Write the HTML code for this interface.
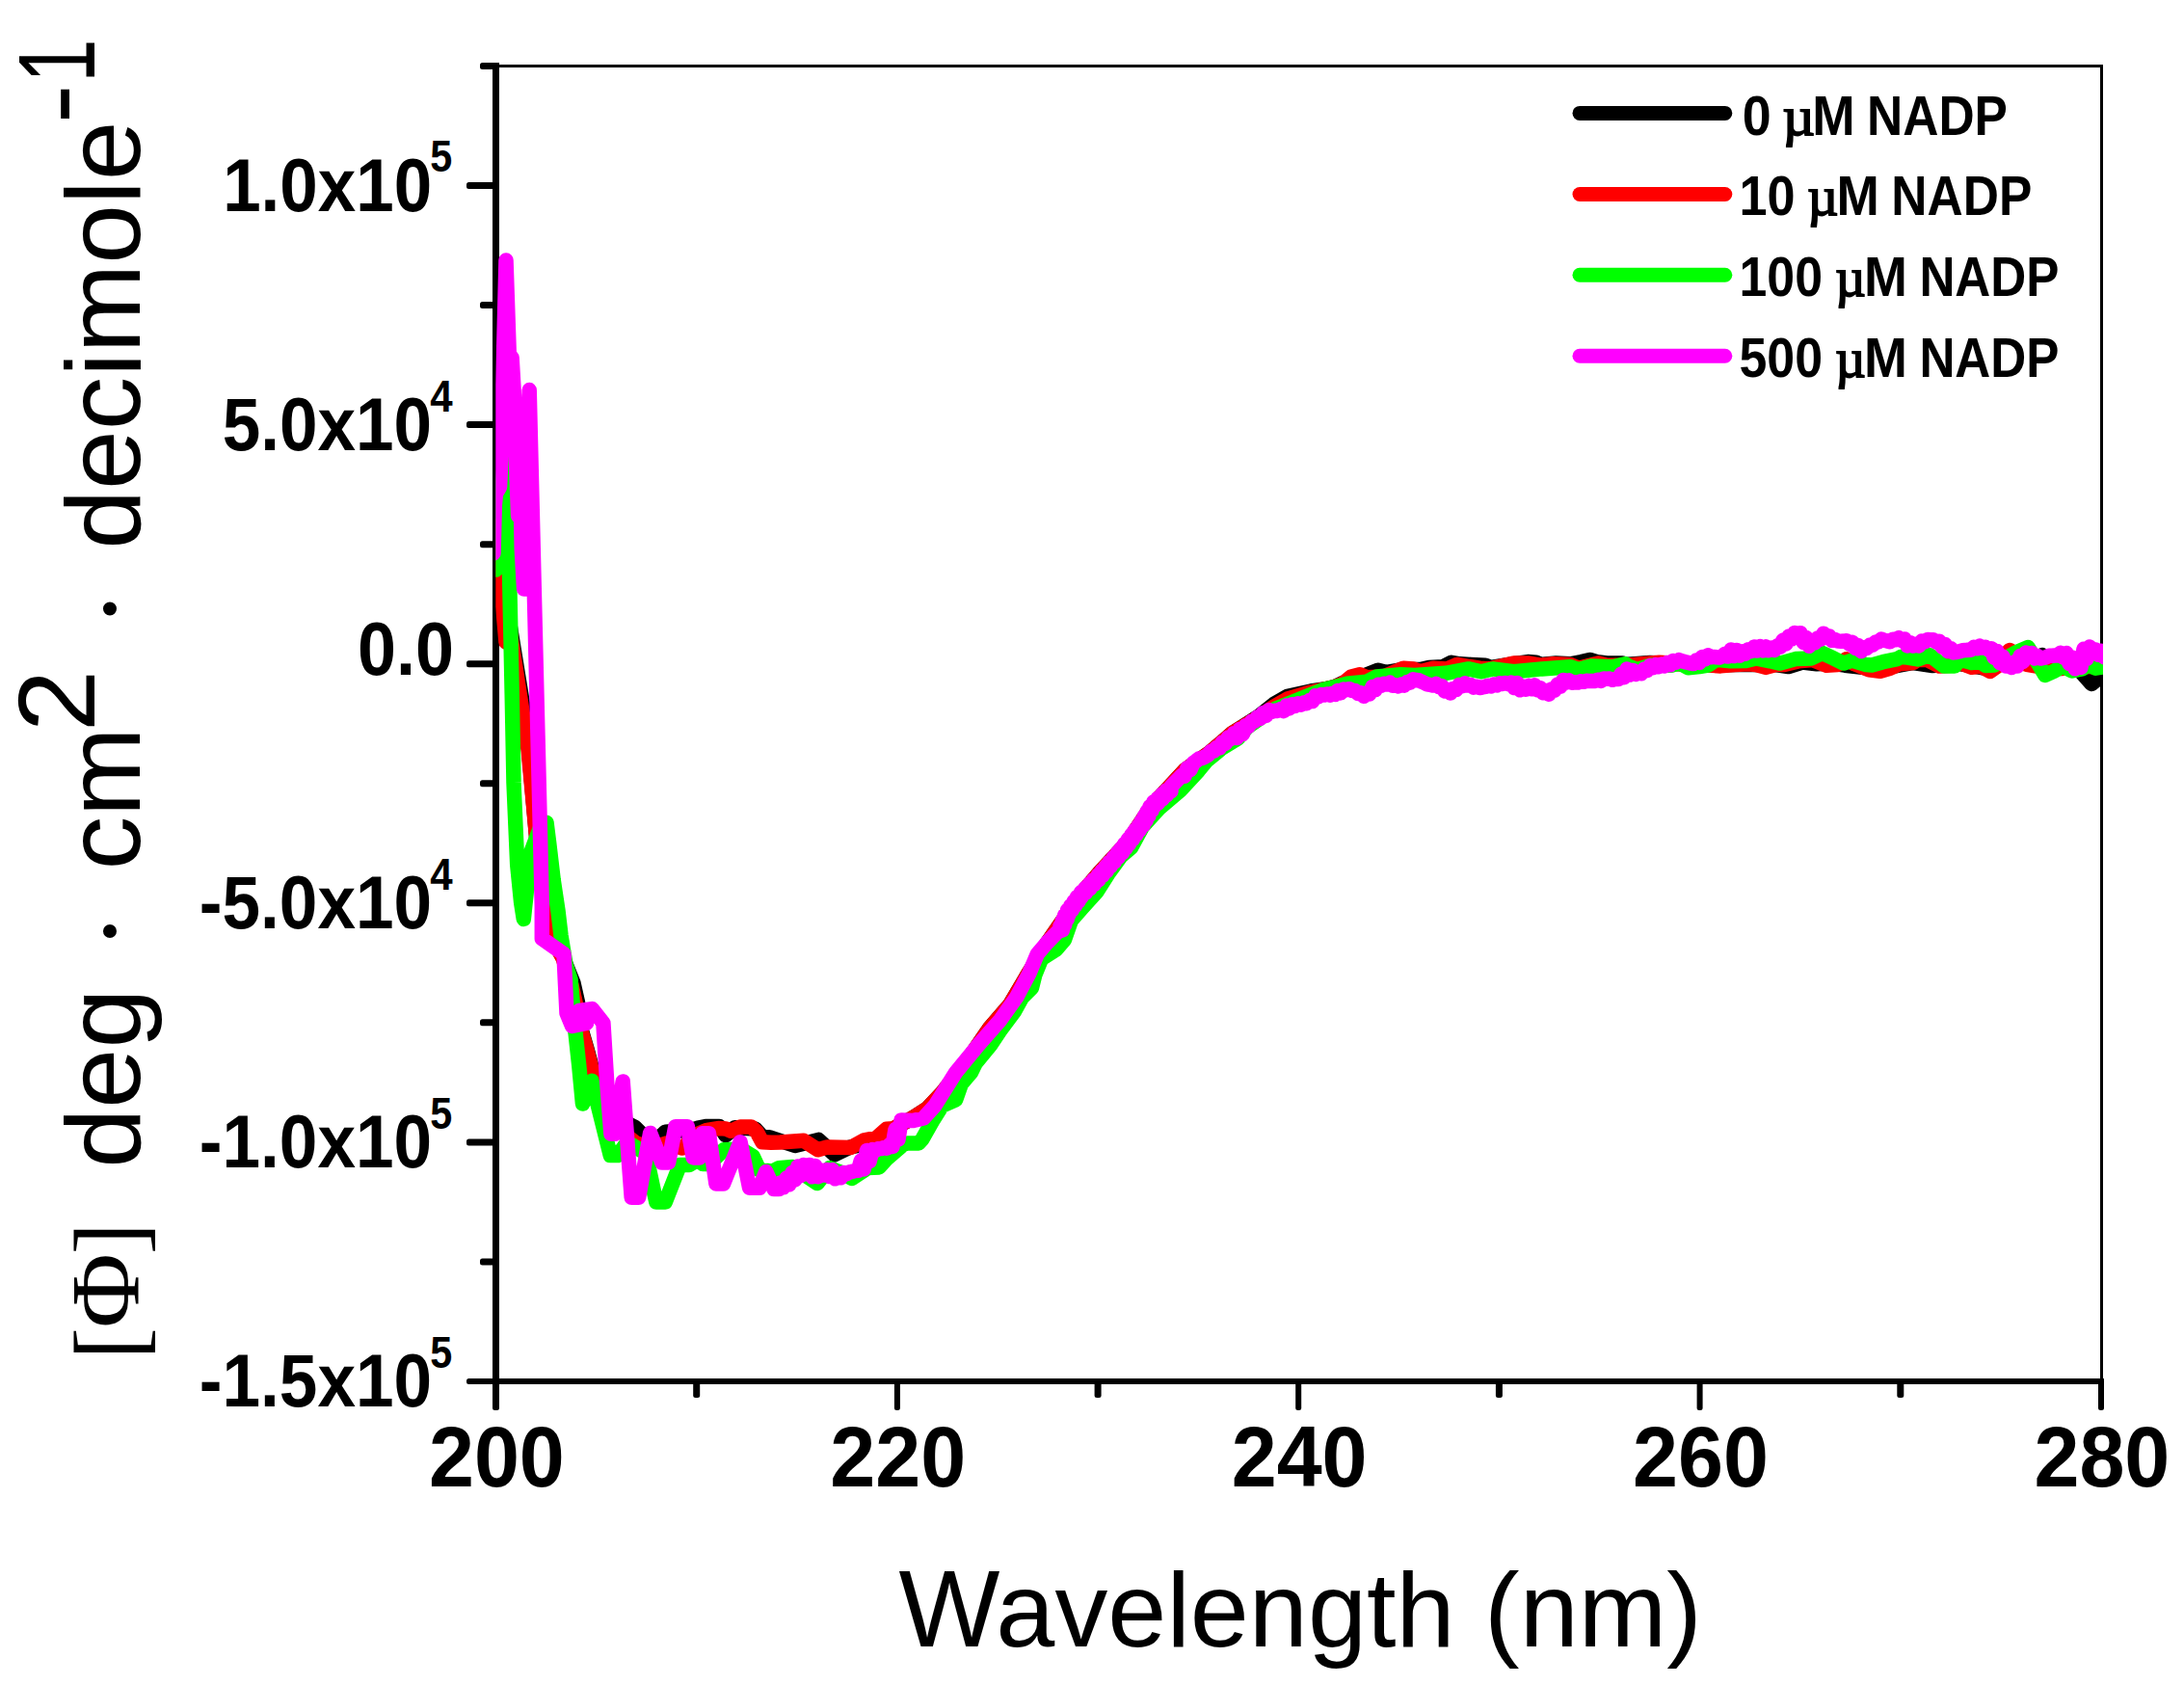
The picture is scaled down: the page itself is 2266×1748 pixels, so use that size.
<!DOCTYPE html>
<html lang="en"><head><meta charset="utf-8"><title>CD spectra - NADP titration</title>
<style>
html,body{margin:0;padding:0;background:#fff;}
body{width:2266px;height:1748px;overflow:hidden;}
svg{display:block;}
text{fill:#000;font-kerning:none;white-space:pre;}
.ss{font-family:"Liberation Sans",Arial,Helvetica,sans-serif;}
.sb{font-family:"Liberation Sans",Arial,Helvetica,sans-serif;font-weight:bold;}
.sf{font-family:"Liberation Serif","Times New Roman",serif;}
.sfb{font-family:"Liberation Serif","Times New Roman",serif;font-weight:bold;}
</style></head><body>
<svg width="2266" height="1748" viewBox="0 0 2266 1748">
<rect x="0" y="0" width="2266" height="1748" fill="#fff"/>
<g fill="#000" shape-rendering="crispEdges">
<rect x="514" y="67" width="1668" height="3"/>
<rect x="2179" y="67" width="3" height="1366"/>
<rect x="511" y="65" width="7" height="1396"/>
<rect x="486" y="1430" width="1697" height="6"/>
</g>
<g fill="#000">
<rect x="498" y="65.0" width="16" height="7" rx="2.5"/>
<rect x="484" y="189.0" width="30" height="7" rx="2.5"/>
<rect x="498" y="313.1" width="16" height="7" rx="2.5"/>
<rect x="484" y="437.1" width="30" height="7" rx="2.5"/>
<rect x="498" y="561.2" width="16" height="7" rx="2.5"/>
<rect x="484" y="685.2" width="30" height="7" rx="2.5"/>
<rect x="498" y="809.2" width="16" height="7" rx="2.5"/>
<rect x="484" y="933.3" width="30" height="7" rx="2.5"/>
<rect x="498" y="1057.3" width="16" height="7" rx="2.5"/>
<rect x="484" y="1181.4" width="30" height="7" rx="2.5"/>
<rect x="498" y="1305.4" width="16" height="7" rx="2.5"/>
<rect x="484" y="1430.0" width="30" height="6" rx="2.5"/>
<rect x="511.0" y="1433" width="7" height="30" rx="2.5"/>
<rect x="719.2" y="1433" width="7" height="17" rx="2.5"/>
<rect x="927.9" y="1433" width="6" height="30" rx="2.5"/>
<rect x="1135.6" y="1433" width="7" height="17" rx="2.5"/>
<rect x="1344.2" y="1433" width="6" height="30" rx="2.5"/>
<rect x="1551.9" y="1433" width="7" height="17" rx="2.5"/>
<rect x="1760.6" y="1433" width="6" height="30" rx="2.5"/>
<rect x="1968.3" y="1433" width="7" height="17" rx="2.5"/>
<rect x="2177.0" y="1433" width="6" height="30" rx="2.5"/>
</g>
<defs><clipPath id="pc"><rect x="514.3" y="60" width="1667.7" height="1380"/></clipPath></defs>
<g clip-path="url(#pc)" fill="none" stroke-width="15.5" stroke-linejoin="round" stroke-linecap="round">
<polyline stroke="#000000" points="514.5,546.0 525.5,666.0 528.5,645.0 543.0,734.0 548.5,777.0 557.0,873.0 566.0,955.0 572.0,972.0 584.5,994.0 595.0,1020.0 599.5,1040.0 602.5,1066.0 609.5,1090.0 613.5,1105.0 621.0,1135.0 640.0,1160.0 658.9,1169.5 667.5,1178.0 684.6,1179.9 690.3,1174.2 696.9,1173.8 717.8,1172.3 724.4,1170.0 732.0,1168.5 746.3,1168.5 748.2,1170.4 752.9,1177.7 762.4,1169.8 783.3,1170.9 789.9,1178.0 800.0,1180.4 824.9,1188.5 849.2,1182.4 865.9,1197.8 882.0,1190.0 891.5,1188.2 909.5,1181.0 927.0,1171.0 948.0,1159.0 962.0,1150.0 978.0,1133.0 1003.2,1100.8 1026.5,1066.8 1048.1,1041.8 1068.0,1008.0 1086.0,979.0 1106.0,950.0 1122.0,927.0 1140.0,906.0 1170.0,873.5 1195.0,836.0 1229.7,798.5 1256.0,780.0 1278.7,760.5 1306.0,743.0 1322.0,730.2 1336.0,722.2 1360.0,717.0 1374.0,715.0 1385.0,712.5 1393.2,708.5 1416.6,700.5 1429.8,695.3 1438.6,697.5 1456.2,694.5 1473.8,694.6 1482.6,692.4 1497.2,691.7 1506.0,687.3 1514.8,688.8 1526.5,689.5 1541.2,690.2 1547.0,692.4 1570.5,688.6 1585.1,686.6 1593.9,687.3 1598.3,689.5 1614.4,688.0 1629.1,688.8 1640.8,686.6 1649.6,684.4 1656.9,686.6 1667.2,688.0 1683.3,688.0 1686.2,689.5 1712.0,687.5 1750.0,689.0 1775.0,690.2 1799.9,689.5 1821.9,689.5 1842.4,689.5 1855.6,691.6 1870.0,687.0 1884.9,688.7 1900.0,688.0 1914.2,690.2 1939.1,693.0 1961.1,692.0 1985.0,687.5 2005.2,690.5 2033.8,688.5 2064.8,694.0 2085.0,680.0 2102.9,686.0 2118.9,679.6 2138.6,691.0 2156.4,693.8 2170.1,709.5 2184.0,698.0"/>
<polyline stroke="#ff0000" points="514.5,546.0 525.0,666.0 527.5,645.0 541.3,734.0 548.0,777.0 557.0,873.0 566.0,955.0 572.0,972.0 584.0,994.0 593.0,1022.0 597.5,1042.0 602.0,1066.0 609.0,1090.0 613.0,1105.0 620.0,1135.0 634.0,1160.0 645.0,1174.0 660.0,1186.0 676.0,1191.0 692.0,1186.0 708.0,1191.0 721.0,1179.0 724.4,1176.1 733.9,1172.3 746.3,1170.4 752.9,1170.9 758.6,1173.3 768.1,1169.0 779.5,1169.0 785.2,1174.2 790.9,1184.7 800.0,1185.2 809.5,1185.0 833.8,1183.3 848.6,1192.7 858.2,1190.1 882.6,1190.5 896.7,1182.8 909.5,1180.3 919.7,1171.3 927.4,1170.6 948.0,1159.0 962.0,1150.0 978.0,1133.0 1003.2,1100.8 1026.5,1066.8 1048.1,1041.8 1068.0,1008.0 1086.0,979.0 1106.0,950.0 1122.0,927.0 1140.0,906.0 1170.0,873.5 1195.0,836.0 1229.7,798.5 1256.0,780.0 1278.7,760.5 1306.0,744.0 1322.0,733.0 1336.0,725.0 1360.0,718.0 1374.0,715.0 1385.0,712.5 1393.2,709.3 1402.0,701.9 1410.8,699.7 1418.1,702.7 1435.7,701.9 1456.2,693.2 1466.4,693.9 1473.8,696.8 1487.0,693.2 1501.6,693.9 1511.9,689.5 1535.3,693.2 1545.6,693.9 1570.5,688.0 1585.1,688.0 1598.3,690.2 1611.5,688.8 1629.1,689.5 1637.9,693.2 1658.4,688.0 1667.2,690.2 1690.0,690.0 1721.5,687.3 1750.0,689.0 1775.0,690.2 1785.2,690.9 1799.9,689.5 1814.5,688.7 1821.9,689.5 1832.1,692.4 1842.4,689.5 1851.2,689.5 1865.8,685.9 1880.5,684.5 1895.1,690.2 1906.8,689.5 1915.6,683.9 1924.4,688.9 1939.1,694.7 1950.8,696.3 1961.1,693.3 1970.7,688.7 1985.0,687.5 1989.8,684.5 1999.3,684.3 2012.4,691.1 2024.3,690.2 2033.8,687.5 2045.7,692.3 2055.2,691.1 2064.8,696.4 2071.9,691.4 2085.0,674.5 2093.3,679.5 2102.9,689.3 2114.8,691.4 2126.7,692.6 2138.6,693.5 2150.5,691.4 2162.4,691.4 2184.0,691.4"/>
<polyline stroke="#00ff00" points="514.5,591.0 525.5,452.0 531.2,720.0 533.0,812.0 536.7,897.0 540.6,936.0 543.3,953.4 550.5,885.0 560.0,860.0 567.0,853.3 569.6,874.0 574.2,913.0 579.0,945.0 582.0,970.5 584.5,985.6 587.0,1000.7 592.0,1016.0 597.0,1071.0 600.7,1105.0 604.5,1145.0 614.0,1121.3 633.3,1198.5 640.9,1198.5 651.0,1185.0 670.0,1196.3 680.8,1247.0 690.3,1247.0 705.4,1208.5 714.9,1208.5 724.4,1202.8 729.2,1207.6 735.8,1207.6 751.0,1192.8 768.5,1192.0 781.3,1199.7 787.7,1213.6 801.8,1214.9 808.2,1211.7 822.3,1210.4 847.9,1227.6 860.8,1211.7 872.3,1216.2 883.8,1222.4 900.5,1211.5 912.1,1210.9 919.7,1202.3 937.7,1186.9 941.5,1185.9 953.1,1185.9 956.9,1181.8 968.5,1161.3 977.4,1147.2 991.6,1141.0 997.4,1124.4 1007.4,1112.8 1012.3,1102.8 1027.3,1084.6 1037.3,1069.6 1052.2,1049.7 1060.5,1034.7 1070.5,1024.7 1073.8,1011.4 1080.5,994.8 1095.8,984.9 1104.4,974.9 1111.4,954.9 1123.0,941.6 1138.0,925.0 1149.6,906.8 1162.9,888.5 1173.7,879.1 1185.4,857.5 1202.0,839.2 1225.2,819.3 1243.5,799.4 1251.8,789.4 1267.8,776.1 1284.1,766.1 1294.0,754.5 1314.0,740.4 1322.8,735.5 1339.4,728.9 1356.0,722.3 1372.6,715.6 1389.3,711.5 1397.6,709.3 1418.1,707.1 1428.4,701.9 1453.3,699.7 1467.9,700.5 1500.1,698.3 1523.6,693.9 1536.8,696.8 1548.5,693.9 1570.5,696.8 1599.8,693.9 1629.1,691.7 1637.9,694.6 1651.1,691.0 1673.0,691.7 1686.2,688.8 1690.0,691.2 1698.8,694.7 1712.0,690.3 1734.0,690.2 1742.7,688.0 1751.5,692.8 1763.3,691.6 1772.1,690.2 1780.8,684.3 1795.5,685.8 1811.6,685.5 1821.9,683.0 1836.5,685.8 1846.8,688.1 1862.9,683.6 1879.0,682.9 1890.7,677.4 1901.0,682.3 1912.7,688.1 1921.5,685.2 1936.2,689.6 1942.0,690.0 1953.7,686.7 1968.4,683.7 1972.0,681.5 1979.0,682.1 1989.8,683.9 2001.7,679.5 2007.6,683.9 2017.1,691.1 2027.9,691.1 2033.8,684.3 2045.7,687.5 2054.0,685.7 2060.0,690.5 2069.5,689.9 2079.0,684.3 2091.0,677.1 2104.0,671.5 2113.6,686.7 2121.9,700.4 2131.4,696.2 2140.0,691.0 2150.0,696.0 2160.0,694.0 2167.0,690.0 2174.3,693.2 2184.0,691.4"/>
<polyline stroke="#ff00ff" points="512.0,574.0 513.3,524.0 514.5,512.0 518.6,505.0 519.8,477.0 525.0,270.0 528.3,368.0 531.1,371.0 533.4,410.0 535.5,477.0 537.6,535.0 540.6,538.5 541.3,570.0 543.6,611.0 549.2,404.6 562.3,940.0 562.3,973.7 585.0,989.6 586.5,1021.0 588.0,1051.0 593.6,1064.4 608.5,1061.5 601.0,1048.5 614.3,1046.6 625.9,1061.3 629.7,1122.3 633.9,1176.3 637.9,1176.3 646.2,1122.0 655.2,1242.2 662.7,1242.2 674.6,1175.4 686.9,1206.1 693.6,1206.1 700.8,1168.7 713.3,1168.7 719.2,1200.9 725.9,1200.9 728.7,1175.7 735.4,1175.7 742.9,1228.0 750.5,1228.0 768.1,1184.7 777.6,1232.3 788.0,1232.3 794.7,1215.5 803.0,1233.6 808.0,1233.6 810.0,1226.9 813.0,1231.8 816.0,1222.1 818.9,1228.8 821.9,1216.6 824.9,1223.8 827.9,1210.0 830.8,1219.5 833.8,1208.4 836.8,1217.8 839.8,1208.4 842.7,1220.8 845.7,1209.5 848.7,1220.8 851.7,1214.1 854.6,1219.0 857.6,1213.6 860.6,1220.4 863.6,1213.5 866.5,1222.8 869.5,1220.1 872.5,1221.7 875.5,1216.4 878.4,1217.8 881.4,1215.9 884.4,1215.3 887.4,1214.4 890.3,1214.3 893.3,1204.0 896.3,1212.9 899.3,1193.4 902.2,1204.7 905.2,1192.6 908.2,1193.6 911.2,1191.8 914.1,1191.6 917.1,1190.6 920.1,1191.3 923.1,1187.5 926.0,1189.5 929.0,1171.6 932.0,1182.1 935.1,1161.9 946.7,1162.6 958.2,1160.0 965.0,1152.5 970.0,1147.0 991.6,1112.6 1014.8,1084.4 1038.1,1057.8 1054.7,1034.5 1068.0,1009.6 1076.3,989.7 1086.3,978.0 1097.6,966.3 1102.4,964.9 1100.0,960.6 1104.8,959.3 1102.4,954.9 1107.2,953.6 1104.7,949.2 1109.1,948.6 1107.6,944.0 1112.4,944.0 1110.9,939.5 1115.8,939.5 1114.3,934.9 1119.1,934.9 1117.6,930.3 1122.0,930.7 1121.5,925.8 1126.5,926.3 1126.0,921.3 1130.9,921.9 1130.4,916.9 1135.4,917.4 1134.8,912.4 1139.8,913.0 1139.3,908.0 1144.2,908.2 1143.3,903.3 1148.3,903.6 1147.3,898.7 1152.3,898.9 1151.3,894.0 1156.3,894.3 1155.3,889.4 1160.3,889.6 1159.4,884.7 1164.5,884.8 1163.2,880.1 1168.1,880.1 1166.8,875.4 1171.7,875.4 1170.4,870.7 1175.3,870.7 1174.0,866.0 1178.9,866.0 1177.6,861.3 1182.5,861.3 1181.2,856.6 1186.3,856.2 1184.4,851.7 1189.2,851.2 1187.3,846.7 1192.1,846.2 1190.2,841.7 1195.0,841.2 1193.1,836.7 1197.2,837.1 1196.8,832.1 1201.7,833.0 1201.3,828.1 1206.1,828.9 1205.7,824.0 1210.6,824.9 1210.2,819.9 1215.0,820.8 1214.8,816.1 1226.0,804.6 1229.0,805.3 1232.0,796.6 1235.1,798.4 1238.1,791.6 1241.1,789.4 1244.1,787.0 1247.1,786.6 1250.2,785.0 1253.2,783.6 1256.2,779.7 1259.2,779.1 1262.2,775.6 1265.3,775.9 1268.3,770.1 1271.3,771.3 1274.3,765.0 1277.3,766.4 1280.4,760.8 1283.4,765.4 1286.4,756.5 1289.4,761.5 1292.4,752.7 1295.5,753.4 1298.5,748.6 1301.5,748.4 1304.5,744.0 1307.5,745.4 1310.5,739.5 1313.6,742.4 1316.6,736.6 1319.6,738.4 1322.6,737.2 1325.6,737.4 1328.7,735.6 1331.7,737.7 1334.7,732.0 1337.7,734.9 1340.7,730.8 1343.8,732.3 1346.8,729.8 1349.8,731.1 1352.8,729.0 1355.8,729.7 1358.9,726.5 1361.9,727.4 1364.9,721.9 1367.9,722.8 1370.9,720.6 1374.0,721.1 1377.0,719.9 1380.0,721.2 1382.0,719.5 1385.0,720.4 1388.0,716.5 1391.0,718.9 1394.0,715.0 1397.0,715.7 1400.0,714.7 1403.0,716.5 1406.0,716.5 1409.0,719.4 1412.0,718.8 1415.0,722.3 1418.0,719.0 1421.0,719.9 1424.0,712.5 1427.0,715.6 1430.0,710.2 1433.0,711.3 1436.0,709.3 1439.0,710.1 1442.0,708.3 1445.0,711.2 1448.0,710.8 1451.0,711.9 1454.0,710.1 1457.0,711.1 1460.0,707.5 1463.0,708.3 1466.0,704.8 1469.0,705.5 1472.0,705.8 1475.0,707.2 1478.0,708.5 1481.0,709.9 1484.0,710.5 1487.0,711.1 1490.0,709.4 1493.0,712.6 1496.0,711.9 1499.0,717.1 1502.0,715.4 1505.0,719.0 1508.0,714.6 1511.0,715.3 1514.0,710.6 1517.0,711.7 1520.0,708.7 1523.0,711.0 1526.0,710.5 1529.0,713.1 1532.0,712.2 1535.0,713.5 1538.0,713.0 1541.0,712.4 1544.0,711.3 1547.0,711.9 1550.0,710.0 1553.0,710.9 1556.0,708.7 1559.0,709.4 1562.0,708.4 1565.0,709.6 1568.0,708.1 1571.0,713.5 1574.0,708.4 1577.0,715.8 1580.0,712.0 1583.0,715.3 1586.0,711.3 1589.0,714.8 1592.0,710.8 1595.0,715.8 1598.0,713.6 1601.0,718.8 1604.0,716.5 1607.0,720.2 1610.0,714.8 1613.0,716.2 1616.0,710.1 1619.0,712.1 1622.0,705.4 1625.0,708.0 1628.0,705.9 1631.0,708.2 1634.0,707.8 1637.0,708.1 1640.0,706.8 1643.0,707.3 1646.0,706.3 1649.0,706.4 1652.0,706.5 1655.0,706.4 1658.0,705.2 1661.0,706.5 1664.0,704.1 1667.0,704.3 1670.0,704.1 1673.0,705.3 1676.0,704.4 1679.0,704.6 1682.0,699.1 1685.0,702.7 1688.0,694.1 1691.0,700.1 1694.0,695.4 1697.0,699.4 1700.0,698.0 1703.0,698.7 1706.0,694.0 1709.0,695.6 1712.0,690.6 1715.0,692.5 1718.0,689.7 1721.0,691.8 1724.0,688.9 1727.0,691.1 1730.0,687.5 1733.0,689.8 1736.0,685.6 1739.0,687.1 1742.0,684.6 1745.0,685.8 1748.0,686.6 1751.0,687.3 1754.0,688.1 1757.0,688.5 1760.0,685.0 1763.0,687.5 1766.0,681.6 1769.0,683.8 1772.0,679.8 1775.0,681.7 1778.0,681.4 1781.0,681.8 1784.0,682.0 1787.0,680.8 1790.0,678.2 1793.0,681.1 1796.0,673.9 1799.0,680.6 1802.0,674.4 1805.0,680.1 1808.0,675.8 1811.0,678.2 1814.0,673.9 1817.0,675.5 1820.0,671.1 1823.0,675.1 1826.0,670.5 1829.0,674.9 1832.0,670.8 1835.0,674.7 1838.0,672.1 1841.0,674.5 1844.0,670.1 1847.0,671.2 1850.0,664.1 1853.0,667.9 1856.0,660.0 1859.0,663.0 1862.0,656.4 1865.0,661.0 1868.0,656.7 1871.0,666.3 1874.0,661.5 1877.0,670.3 1880.0,666.5 1883.0,666.8 1886.0,661.9 1889.0,663.3 1892.0,657.2 1895.0,661.3 1898.0,660.2 1901.0,664.3 1904.0,663.5 1907.0,665.1 1910.0,665.3 1913.0,665.1 1916.0,664.7 1919.0,668.3 1922.0,666.3 1925.0,672.4 1928.0,669.6 1931.0,675.6 1934.0,672.1 1937.0,672.4 1940.0,669.1 1943.0,669.2 1946.0,666.1 1949.0,666.0 1952.0,663.1 1955.0,664.2 1958.0,664.9 1961.0,665.7 1964.0,663.2 1967.0,663.8 1970.0,661.7 1973.0,664.3 1976.0,662.9 1979.0,669.9 1982.0,666.7 1985.0,670.0 1988.0,668.2 1991.0,670.0 1994.0,665.0 1997.0,665.8 2000.0,663.5 2003.0,663.7 2006.0,663.8 2009.0,666.1 2012.0,665.2 2015.0,671.0 2018.0,668.5 2021.0,675.6 2024.0,672.7 2027.0,676.9 2030.0,676.5 2033.0,675.8 2036.0,674.8 2039.0,674.6 2042.0,674.2 2045.0,674.2 2048.0,671.4 2051.0,672.7 2054.0,670.2 2057.0,672.1 2060.0,671.4 2063.0,674.0 2066.0,672.7 2069.0,682.0 2072.0,675.4 2075.0,687.7 2078.0,681.0 2081.0,691.0 2084.0,688.6 2087.0,692.6 2090.0,686.8 2093.0,691.1 2096.0,680.5 2099.0,686.3 2102.0,677.1 2105.0,680.3 2108.0,677.4 2111.0,683.0 2114.0,680.4 2117.0,683.1 2120.0,682.5 2123.0,681.7 2126.0,680.3 2129.0,680.3 2132.0,680.0 2135.0,680.0 2138.0,677.2 2141.0,682.1 2144.0,677.5 2147.0,688.4 2150.0,682.0 2153.0,693.8 2156.0,682.7 2159.0,692.3 2162.0,673.2 2165.0,683.3 2168.0,671.0 2171.0,674.6 2174.0,674.0 2177.0,679.3 2180.0,675.2 2183.0,681.6 2186.0,676.0"/>
</g>
<g fill="none" stroke-width="15" stroke-linecap="round">
<line x1="1639" y1="117.4" x2="1789.8" y2="117.4" stroke="#000000"/>
<line x1="1639" y1="201.5" x2="1789.8" y2="201.5" stroke="#ff0000"/>
<line x1="1639" y1="285.2" x2="1789.8" y2="285.2" stroke="#00ff00"/>
<line x1="1639" y1="369.2" x2="1789.8" y2="369.2" stroke="#ff00ff"/>
</g>
<text><tspan class="sb" x="1807.67" y="140.10" font-size="56.7" textLength="29.94" lengthAdjust="spacingAndGlyphs">0</tspan> <tspan class="sf" x="1849.53" y="140.10" font-size="57.5" textLength="33.36" lengthAdjust="spacingAndGlyphs" stroke="#000" stroke-width="1.8">µ</tspan><tspan class="sb" x="1880.23" y="140.10" font-size="56.7" textLength="44.44" lengthAdjust="spacingAndGlyphs">M</tspan> <tspan class="sb" x="1937.06" y="140.10" font-size="56.7" textLength="145.90" lengthAdjust="spacingAndGlyphs">NADP</tspan></text>
<text><tspan class="sb" x="1804.51" y="222.90" font-size="56.7" textLength="58.14" lengthAdjust="spacingAndGlyphs">10</tspan> <tspan class="sf" x="1875.21" y="222.90" font-size="57.5" textLength="32.01" lengthAdjust="spacingAndGlyphs" stroke="#000" stroke-width="1.8">µ</tspan><tspan class="sb" x="1905.44" y="222.90" font-size="56.7" textLength="44.32" lengthAdjust="spacingAndGlyphs">M</tspan> <tspan class="sb" x="1962.36" y="222.90" font-size="56.7" textLength="145.90" lengthAdjust="spacingAndGlyphs">NADP</tspan></text>
<text><tspan class="sb" x="1804.53" y="307.10" font-size="56.7" textLength="86.49" lengthAdjust="spacingAndGlyphs">100</tspan> <tspan class="sf" x="1904.14" y="307.10" font-size="57.5" textLength="31.44" lengthAdjust="spacingAndGlyphs" stroke="#000" stroke-width="1.8">µ</tspan><tspan class="sb" x="1933.99" y="307.10" font-size="56.7" textLength="44.91" lengthAdjust="spacingAndGlyphs">M</tspan> <tspan class="sb" x="1991.38" y="307.10" font-size="56.7" textLength="145.07" lengthAdjust="spacingAndGlyphs">NADP</tspan></text>
<text><tspan class="sb" x="1804.50" y="391.00" font-size="56.7" textLength="86.52" lengthAdjust="spacingAndGlyphs">500</tspan> <tspan class="sf" x="1904.14" y="391.00" font-size="57.5" textLength="31.44" lengthAdjust="spacingAndGlyphs" stroke="#000" stroke-width="1.8">µ</tspan><tspan class="sb" x="1933.99" y="391.00" font-size="56.7" textLength="44.91" lengthAdjust="spacingAndGlyphs">M</tspan> <tspan class="sb" x="1991.38" y="391.00" font-size="56.7" textLength="145.07" lengthAdjust="spacingAndGlyphs">NADP</tspan></text>
<text><tspan class="sb" x="231.13" y="218.92" font-size="77" textLength="216.98" lengthAdjust="spacingAndGlyphs">1.0x10</tspan><tspan class="sb" x="446.13" y="178.42" font-size="46" textLength="23.03" lengthAdjust="spacingAndGlyphs">5</tspan></text>
<text><tspan class="sb" x="230.71" y="467.01" font-size="77" textLength="217.40" lengthAdjust="spacingAndGlyphs">5.0x10</tspan><tspan class="sb" x="446.16" y="426.91" font-size="46" textLength="23.36" lengthAdjust="spacingAndGlyphs">4</tspan></text>
<text><tspan class="sb" x="206.82" y="963.19" font-size="77" textLength="241.30" lengthAdjust="spacingAndGlyphs">-5.0x10</tspan><tspan class="sb" x="446.16" y="923.09" font-size="46" textLength="23.36" lengthAdjust="spacingAndGlyphs">4</tspan></text>
<text><tspan class="sb" x="206.82" y="1211.28" font-size="77" textLength="241.30" lengthAdjust="spacingAndGlyphs">-1.0x10</tspan><tspan class="sb" x="446.13" y="1170.78" font-size="46" textLength="23.03" lengthAdjust="spacingAndGlyphs">5</tspan></text>
<text><tspan class="sb" x="206.82" y="1459.37" font-size="77" textLength="241.30" lengthAdjust="spacingAndGlyphs">-1.5x10</tspan><tspan class="sb" x="446.13" y="1418.87" font-size="46" textLength="23.03" lengthAdjust="spacingAndGlyphs">5</tspan></text>
<text class="sb" transform="translate(371.06,699.80) scale(0.9332,1)" font-size="77">0.0</text>
<text class="sb" transform="translate(444.92,1542.00) scale(0.9435,1)" font-size="89.5">200</text>
<text class="sb" transform="translate(861.30,1542.00) scale(0.9435,1)" font-size="89.5">220</text>
<text class="sb" transform="translate(1277.67,1542.00) scale(0.9435,1)" font-size="89.5">240</text>
<text class="sb" transform="translate(1694.05,1542.00) scale(0.9435,1)" font-size="89.5">260</text>
<text class="sb" transform="translate(2110.42,1542.00) scale(0.9435,1)" font-size="89.5">280</text>
<text><tspan class="ss" x="932.51" y="1707.80" font-size="113.8" textLength="104.87" lengthAdjust="spacingAndGlyphs">W</tspan><tspan class="ss" x="1033.33" y="1707.80" font-size="108.5" textLength="732.48" lengthAdjust="spacingAndGlyphs">avelength (nm)</tspan></text>
<g transform="translate(144.5,0) rotate(-90)">
<text><tspan class="sf" x="-1410.37" y="2.40" font-size="102" textLength="33.05" lengthAdjust="spacingAndGlyphs">[</tspan><tspan class="sf" x="-1377.82" y="-0.50" font-size="102" textLength="77.85" lengthAdjust="spacingAndGlyphs">Φ</tspan><tspan class="sf" x="-1301.35" y="2.40" font-size="102" textLength="32.75" lengthAdjust="spacingAndGlyphs">]</tspan> <tspan class="ss" x="-1211.69" y="0.00" font-size="108.5" textLength="186.18" lengthAdjust="spacingAndGlyphs">deg</tspan> <tspan class="sf" x="-985.73" y="8.00" font-size="118" textLength="39.45" lengthAdjust="spacingAndGlyphs">·</tspan> <tspan class="ss" x="-902.63" y="0.00" font-size="108.5" textLength="148.36" lengthAdjust="spacingAndGlyphs">cm</tspan><tspan class="ss" x="-759.00" y="-46.40" font-size="113" textLength="64.09" lengthAdjust="spacingAndGlyphs">2</tspan> <tspan class="sf" x="-651.23" y="8.00" font-size="118" textLength="39.45" lengthAdjust="spacingAndGlyphs">·</tspan> <tspan class="ss" x="-569.66" y="0.00" font-size="108.5" textLength="443.99" lengthAdjust="spacingAndGlyphs">decimole</tspan><tspan class="ss" x="-128.51" y="-46.40" font-size="113" textLength="41.33" lengthAdjust="spacingAndGlyphs">-</tspan><tspan class="ss" x="-85.68" y="-46.40" font-size="113" textLength="45.15" lengthAdjust="spacingAndGlyphs">1</tspan></text>
</g>
</svg>
</body></html>
